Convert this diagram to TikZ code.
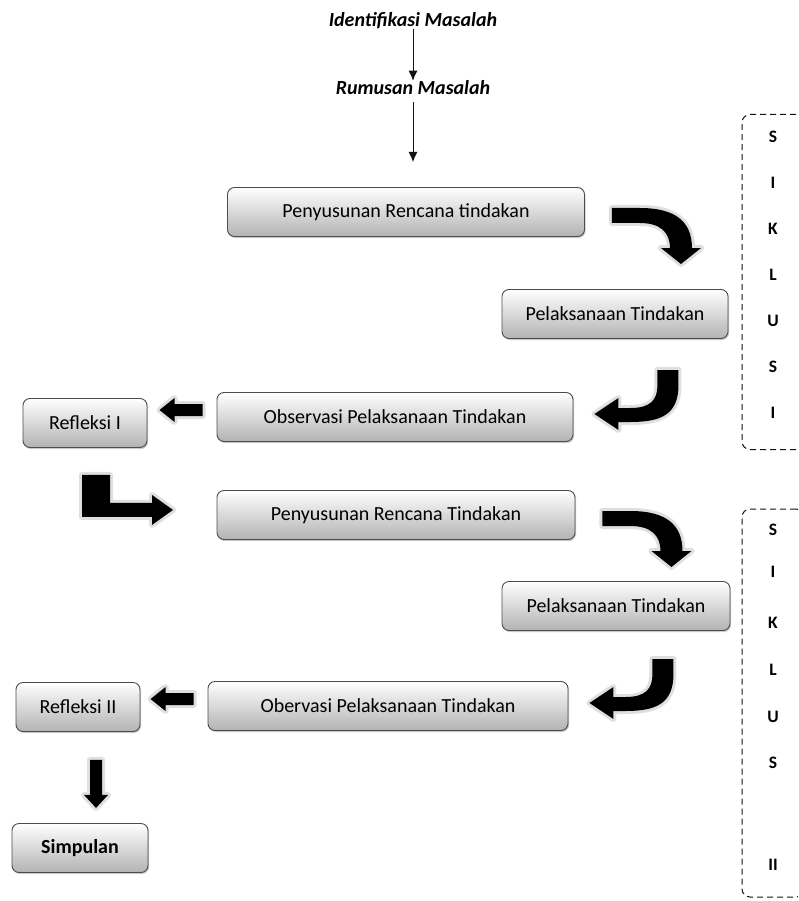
\documentclass[tikz,border=0pt]{standalone}
\usepackage{fontspec}
\setmainfont{Carlito}
\usetikzlibrary{arrows.meta,shadows}

\begin{document}
\begin{tikzpicture}[
  x=1pt, y=-1pt,
  tahap/.style={draw=gray!60!black, line width=0.9pt, rounded corners=7pt,
    top color=white, bottom color=gray!60, minimum height=49pt,
    drop shadow={shadow xshift=1pt, shadow yshift=-1.5pt, fill=gray!70, opacity=0.6},
    font=\fontsize{20}{24}\selectfont},
  judul/.style={inner sep=0pt, font=\fontsize{20}{24}\selectfont\bfseries\itshape},
  panah/.style={-{Latex[length=10pt,width=9pt]}, line width=1pt, gray!15!black},
  siklus/.style={draw=gray!15!black, dash pattern=on 6pt off 4pt, line width=1pt,
    rounded corners=8pt, minimum width=62pt},
  huruf/.style={inner sep=0pt, font=\fontsize{17.5}{20}\selectfont\bfseries},
  blok/.style={fill=black, preaction={draw=gray!25, line width=6pt, line join=round}},
  belok/.pic={
    \path[blok] (27,-4) -- (55,-4) .. controls (91,-4) and (107,10) .. (107,36)
      -- (116,36) -- (96,52) -- (76,36) -- (85,36)
      .. controls (85,20) and (75,11) .. (55,11) -- (27,11) -- cycle;
  },
  kait/.pic={
    \path[blok] (84,-47) -- (105,-47) -- (105,-32) .. controls (105,-2) and (87,5) .. (57,5)
      -- (45,5) -- (45,13) -- (21,-3) -- (45,-19) -- (45,-9) -- (57,-9)
      .. controls (77,-9) and (84,-17) .. (84,-32) -- cycle;
  },
  kiri/.pic={
    \path[blok] (-14,-13) -- (-42,-13) -- (-42,-19) -- (-57,-7) -- (-42,5)
      -- (-42,-1) -- (-14,-1) -- cycle;
  },
  siku/.pic={
    \path[blok] (-3,27) -- (25,27) -- (25,55) -- (67,55) -- (67,47) -- (88,62)
      -- (67,77) -- (67,69) -- (-3,69) -- cycle;
  },
  bawah/.pic={
    \path[blok] (12,28) -- (24,28) -- (24,63) -- (30,63) -- (18,76) -- (6,63)
      -- (12,63) -- cycle;
  },
]
  \useasboundingbox (0,0) rectangle (798,901);
  \clip (0,0) rectangle (798,901);

  \node[judul] (idm) at (413,21) {Identifikasi Masalah};
  \node[judul] (rm) at (413,88) {Rumusan Masalah};
  \coordinate (awal) at (413,162);
  \draw[panah] (idm.south) -- (rm.north);
  \draw[panah, shorten <=7pt] (rm.south) -- (awal);

  \node[tahap, minimum width=357pt] (prt1) at (406,212) {Penyusunan Rencana tindakan};
  \node[tahap, minimum width=226pt] (pt1) at (615,314) {Pelaksanaan Tindakan};
  \node[tahap, minimum width=356pt] (obs1) at (395,417) {Observasi Pelaksanaan Tindakan};
  \node[tahap, minimum width=124pt] (ref1) at (85,423) {Refleksi I};
  \node[tahap, minimum width=358pt] (prt2) at (396,515) {Penyusunan Rencana Tindakan};
  \node[tahap, minimum width=228pt] (pt2) at (616,606) {Pelaksanaan Tindakan};
  \node[tahap, minimum width=360pt] (obs2) at (388,706) {Obervasi Pelaksanaan Tindakan};
  \node[tahap, minimum width=124pt] (ref2) at (78,707) {Refleksi II};
  \node[tahap, minimum width=136pt, font=\fontsize{20}{24}\selectfont\bfseries] (simp) at (80,848) {Simpulan};

  \pic at (prt1.east) {belok};
  \pic at (obs1.east) {kait};
  \pic at (obs1.west) {kiri};
  \pic at (ref1.south) {siku};
  \pic at (prt2.east) {belok};
  \pic at (obs2.east) {kait};
  \pic at (obs2.west) {kiri};
  \pic at (ref2.south) {bawah};

  \node[siklus, minimum height=335pt] (sik1) at (773,282) {};
  \foreach \ch [count=\i] in {S,I,K,L,U,S,I}
    \node[huruf] (h1-\i) at (773,{91+46*\i}) {\ch};
  \node[siklus, minimum height=388pt] (sik2) at (773,703) {};
  \foreach \ch/\y [count=\i] in {S/530,I/572,K/623,L/670,U/717,S/763,II/865}
    \node[huruf] (h2-\i) at (773,\y) {\ch};
\end{tikzpicture}
\end{document}
